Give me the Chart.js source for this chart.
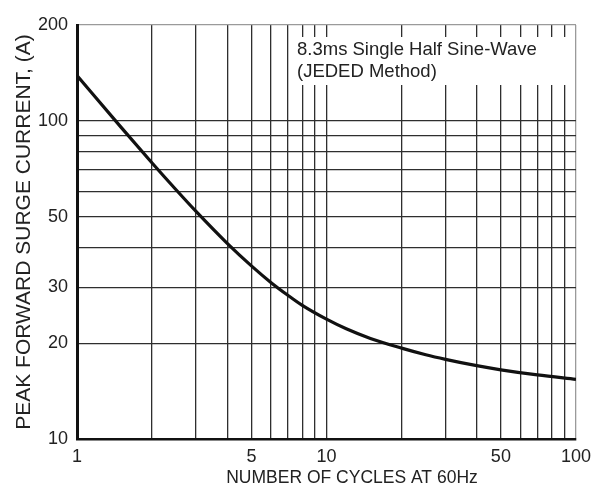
<!DOCTYPE html>
<html>
<head>
<meta charset="utf-8">
<script src="https://cdn.jsdelivr.net/npm/chart.js@4.4.1/dist/chart.umd.min.js"></script>
<style>
  html, body { margin: 0; padding: 0; background: #fff; }
  #wrap { width: 598px; height: 490px; }
</style>
</head>
<body>
<div id="wrap"><canvas id="surgeChart"></canvas></div>
<script>
/* ---- data ---- */
const cycles = [1, 1.5, 2, 2.5, 3, 4, 5, 6, 7, 8, 10, 12, 15, 20, 25, 30, 40, 50, 70, 100];
const surgeAmps = [138.7, 95.5, 73.7, 60.6, 51.9, 41.2, 35.0, 31.0, 28.3, 26.3, 23.8, 22.2, 20.7, 19.3, 18.4, 17.8, 17.0, 16.5, 15.9, 15.4];

const xTicks = [1, 2, 3, 4, 5, 6, 7, 8, 9, 10, 20, 30, 40, 50, 60, 70, 80, 90, 100];
const xTickLabels = [1, 5, 10, 50, 100];
const yTicks = [10, 20, 30, 40, 50, 60, 70, 80, 90, 100, 200];
const yTickLabels = [10, 20, 30, 50, 100, 200];

const noteLines = ['8.3ms Single Half Sine-Wave', '(JEDED Method)'];
const xTitle = 'NUMBER OF CYCLES AT 60Hz';
const yTitle = 'PEAK FORWARD SURGE CURRENT, (A)';

const tickFont = { family: "'Liberation Sans', Arial, sans-serif", size: 18 };
const gridDark = '#2e2e2e';
const gridLight = '#9a9a9a';

// white note box over the grid + x axis title placed like the original
const notePlugin = {
  id: 'notePlugin',
  beforeDatasetsDraw(chart) {
    const ctx = chart.ctx;
    ctx.save();
    ctx.fillStyle = '#ffffff';
    ctx.fillRect(296, 37, 276, 48);
    ctx.fillStyle = '#222';
    ctx.font = "18.5px 'Liberation Sans', Arial, sans-serif";
    ctx.textBaseline = 'alphabetic';
    ctx.textAlign = 'left';
    ctx.fillText(noteLines[0], 297, 55);
    ctx.fillText(noteLines[1], 297, 77);
    ctx.restore();
  },
  afterDraw(chart) {
    const ctx = chart.ctx;
    ctx.save();
    ctx.fillStyle = '#222';
    ctx.font = "17.5px 'Liberation Sans', Arial, sans-serif";
    ctx.textAlign = 'center';
    ctx.textBaseline = 'middle';
    ctx.fillText(xTitle, 352, 478);
    ctx.restore();
  }
};

new Chart(document.getElementById('surgeChart').getContext('2d'), {
  type: 'line',
  data: {
    datasets: [{
      data: cycles.map((c, i) => ({ x: c, y: surgeAmps[i] })),
      borderColor: '#111111',
      borderWidth: 3.2,
      pointRadius: 0,
      fill: false,
      cubicInterpolationMode: 'monotone'
    }]
  },
  options: {
    responsive: true,
    maintainAspectRatio: false,
    animation: false,
    layout: { padding: { top: 25, right: 21, left: 0, bottom: 0 } },
    plugins: { legend: { display: false }, tooltip: { enabled: false } },
    scales: {
      x: {
        type: 'logarithmic',
        min: 1,
        max: 100,
        afterBuildTicks: scale => { scale.ticks = xTicks.map(v => ({ value: v })); },
        afterFit: scale => { scale.height = 51; },
        ticks: {
          autoSkip: false,
          maxRotation: 0,
          padding: 7,
          color: '#222',
          font: tickFont,
          callback: v => xTickLabels.includes(v) ? String(v) : ''
        },
        grid: {
          drawTicks: false,
          lineWidth: 1.3,
          color: c => (c.tick && c.tick.value === 100) ? gridLight : gridDark
        },
        border: { display: true, color: '#111', width: 2.5 }
      },
      y: {
        type: 'logarithmic',
        min: 10,
        max: 200,
        afterBuildTicks: scale => { scale.ticks = yTicks.map(v => ({ value: v })); },
        afterFit: scale => { scale.width = 77; },
        ticks: {
          autoSkip: false,
          padding: 9,
          color: '#222',
          font: tickFont,
          callback: v => yTickLabels.includes(v) ? String(v) : ''
        },
        grid: {
          drawTicks: false,
          lineWidth: 1.3,
          color: c => (c.tick && c.tick.value === 200) ? gridLight : gridDark
        },
        border: { display: true, color: '#111', width: 3 },
        title: {
          display: true,
          text: yTitle,
          color: '#222',
          font: { family: "'Liberation Sans', Arial, sans-serif", size: 21 },
          padding: { top: 12, bottom: 0 }
        }
      }
    }
  },
  plugins: [notePlugin]
});
</script>
</body>
</html>
